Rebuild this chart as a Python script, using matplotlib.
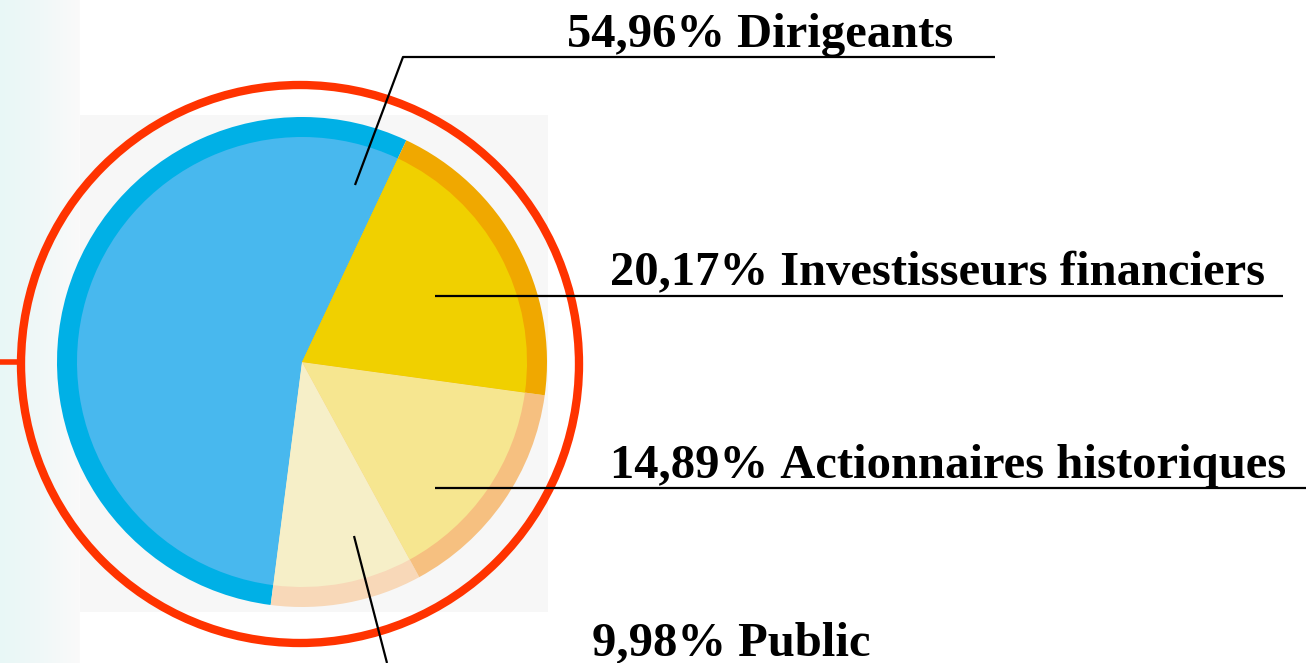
import numpy as np
import matplotlib.pyplot as plt
from matplotlib.colors import LinearSegmentedColormap
from matplotlib.patches import Rectangle, Circle

# données de répartition du capital
labels = ['Dirigeants', 'Public', 'Actionnaires historiques', 'Investisseurs financiers']
parts = [54.96, 9.98, 14.89, 20.17]
pct_txt = ['54,96%', '9,98%', '14,89%', '20,17%']
fill_colors = ['#48b8ee', '#f6efc8', '#f6e690', '#f0d000']
ring_colors = ['#00b0e6', '#f8d8b8', '#f6c080', '#f0a800']

W, H = 1306, 663
cx, cy = 302, H - 362   # centre du camembert (px)
R = 245

fig = plt.figure(figsize=(W / 100, H / 100), dpi=100)
ax = fig.add_axes([0, 0, 1, 1])

# bande de fond à gauche
grad = np.linspace(0, 1, 80)[None, :]
cm = LinearSegmentedColormap.from_list('g', ['#e8f7f6', '#f0f8f8', '#fafafa'])
ax.imshow(np.repeat(grad, 10, axis=0), cmap=cm, extent=(0, 80, 0, H),
          aspect='auto', zorder=0)
ax.add_patch(Rectangle((80, H - 612), 468, 497, color='#f7f7f7', lw=0, zorder=0))

# anneau extérieur puis disque intérieur
ax.pie(parts, colors=ring_colors, startangle=64.8, counterclock=True,
       center=(cx, cy), radius=R, wedgeprops=dict(linewidth=0))
ax.pie(parts, colors=fill_colors, startangle=64.8, counterclock=True,
       center=(cx, cy), radius=R - 20, wedgeprops=dict(linewidth=0))

# cercle rouge
ax.add_patch(Circle((300, H - 364), 279, fill=False, ec='#ff3300', lw=6, zorder=3))
ax.plot([0, 22], [H - 362, H - 362], color='#ff3300', lw=4, zorder=3)

# étiquettes
font = dict(family='Liberation Serif', fontweight='bold', fontsize=35, color='black')
lab_pos = {
    'Dirigeants': (567, 47),
    'Investisseurs financiers': (610, 285),
    'Actionnaires historiques': (610, 478),
    'Public': (592, 655),
}
for lab, p in zip(labels, pct_txt):
    x, y = lab_pos[lab]
    ax.text(x, H - y, p + '\u00a0' + lab, ha='left', va='baseline', zorder=5, **font)

lk = dict(color='black', lw=1.6, zorder=4, solid_capstyle='butt')
ax.plot([355, 403, 995], [H - 185, H - 57, H - 57], **lk)
ax.plot([435, 1283], [H - 296, H - 296], **lk)
ax.plot([435, 1306], [H - 488, H - 488], **lk)
ax.plot([354, 387], [H - 536, H - 663], **lk)

ax.set_xlim(0, W)
ax.set_ylim(0, H)
ax.set_aspect('auto')
ax.axis('off')

fig.savefig('out.png', dpi=100, facecolor='white')
